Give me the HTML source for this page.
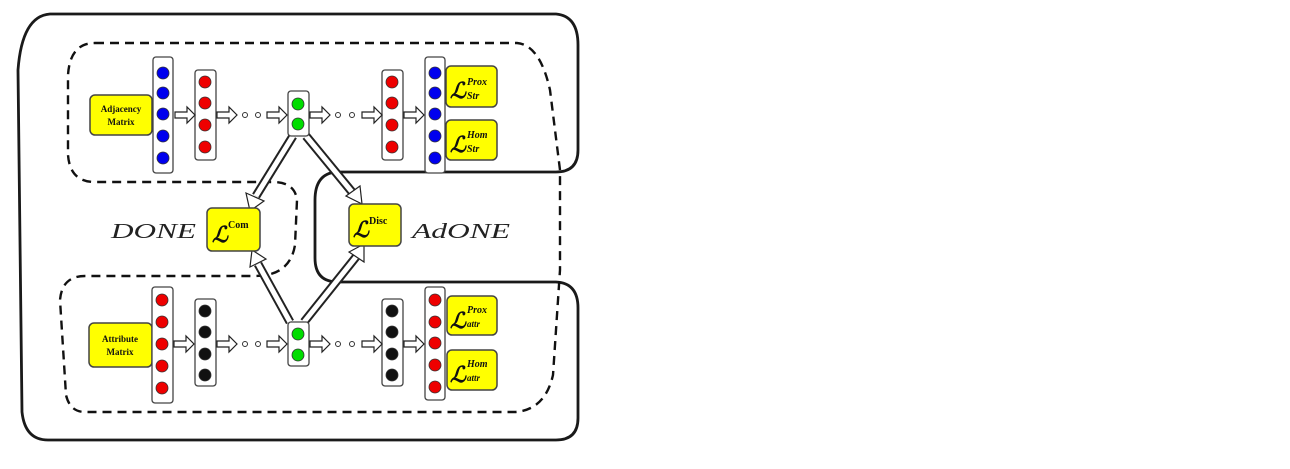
<!DOCTYPE html>
<html><head><meta charset="utf-8"><style>
html,body{margin:0;padding:0;background:#fff;width:1290px;height:469px;overflow:hidden}
svg{display:block}
.b{font-family:"Liberation Serif",serif;font-weight:bold}
</style></head><body>
<svg width="1290" height="469" viewBox="0 0 1290 469" xmlns="http://www.w3.org/2000/svg">
<defs>
<g id="arr"><path d="M0,-3 L12,-3 L12,-8 L20,0 L12,8 L12,3 L0,3 Z" fill="#fff" stroke="#222" stroke-width="1.2"/></g>
</defs>
<path d="M50,14 L556,14 Q578,16 578,45 L578,150 Q578,172 556,172 L336,172 Q315,174 315,200 L315,258 Q315,282 338,282 L556,282 Q578,283 578,308 L578,418 Q578,440 556,440 L48,440 Q25,440 22,412 L18,70 Q22,16 50,14 Z" fill="none" stroke="#1a1a1a" stroke-width="2.8"/>
<path d="M95,43 L517,43 Q540,45 550,90 L560,170 L560,270 L553,375 Q545,410 515,412 L85,412 Q70,412 66,395 L60,300 Q62,276 85,276 L255,276 Q290,276 295,245 L297,200 Q295,183 275,182 L95,182 Q70,182 68,155 L68,75 Q70,43 95,43 Z" fill="none" stroke="#111" stroke-width="2.4" stroke-dasharray="9,6"/>
<g fill="none" stroke-linecap="butt">
<path d="M293,136 L256,196" stroke="#222" stroke-width="9"/><path d="M293,136 L256,196" stroke="#fff" stroke-width="5"/>
<path d="M306,136 L352,192" stroke="#222" stroke-width="9"/><path d="M306,136 L352,192" stroke="#fff" stroke-width="5"/>
<path d="M290,322 L258,264" stroke="#222" stroke-width="9"/><path d="M290,322 L258,264" stroke="#fff" stroke-width="5"/>
<path d="M304,322 L356,257" stroke="#222" stroke-width="9"/><path d="M304,322 L356,257" stroke="#fff" stroke-width="5"/>
</g>
<g fill="#fff" stroke="#222" stroke-width="1.2">
<path d="M246,193 L264,201 L250,211 Z"/>
<path d="M346,196 L360,186 L362,204 Z"/>
<path d="M250,267 L266,259 L252,250 Z"/>
<path d="M349,252 L364,262 L364,244 Z"/>
</g>
<g fill="#ffff00" stroke="#444" stroke-width="1.5">
<rect x="90" y="95" width="62" height="40" rx="5"/>
<rect x="89" y="323" width="63" height="44" rx="5"/>
<rect x="446" y="66" width="51" height="41" rx="5"/>
<rect x="446" y="120" width="51" height="40" rx="5"/>
<rect x="447" y="296" width="50" height="39" rx="5"/>
<rect x="447" y="350" width="50" height="40" rx="5"/>
<rect x="207" y="208" width="53" height="43" rx="5"/>
<rect x="349" y="204" width="52" height="42" rx="5"/>
</g>
<g class="b" font-size="9" text-anchor="middle" fill="#111">
<text x="121" y="112">Adjacency</text><text x="121" y="125">Matrix</text>
<text x="120" y="342">Attribute</text><text x="120" y="355">Matrix</text>
</g>
<g font-family="Liberation Serif,serif" font-style="italic" font-weight="bold" fill="#111">
<text x="450" y="98" font-size="22">ℒ</text><text x="467" y="85" font-size="10">Prox</text><text x="467" y="99" font-size="10">Str</text>
<text x="450" y="152" font-size="22">ℒ</text><text x="467" y="138" font-size="10">Hom</text><text x="467" y="152" font-size="10">Str</text>
<text x="450" y="328" font-size="22">ℒ</text><text x="467" y="313" font-size="10">Prox</text><text x="467" y="327" font-size="9">attr</text>
<text x="450" y="382" font-size="22">ℒ</text><text x="467" y="367" font-size="10">Hom</text><text x="467" y="381" font-size="9">attr</text>
<text x="212" y="242" font-size="22">ℒ</text><text x="228" y="228" font-size="10" font-style="normal">Com</text>
<text x="353" y="237" font-size="22">ℒ</text><text x="369" y="224" font-size="10" font-style="normal">Disc</text>
</g>
<g font-family="Liberation Serif,serif" font-style="italic" font-size="21" fill="#222">
<text x="111" y="238" textLength="85" lengthAdjust="spacingAndGlyphs">DONE</text>
<text x="412" y="238" textLength="98" lengthAdjust="spacingAndGlyphs">AdONE</text>
</g>
<g fill="#fff" stroke="#444" stroke-width="1.3">
<rect x="153" y="57" width="20" height="116" rx="3"/>
<rect x="195" y="70" width="21" height="90" rx="3"/>
<rect x="288" y="91" width="21" height="45" rx="3"/>
<rect x="382" y="70" width="21" height="90" rx="3"/>
<rect x="425" y="57" width="20" height="116" rx="3"/>
<rect x="152" y="287" width="21" height="116" rx="3"/>
<rect x="195" y="299" width="21" height="87" rx="3"/>
<rect x="288" y="322" width="21" height="44" rx="3"/>
<rect x="382" y="299" width="21" height="87" rx="3"/>
<rect x="425" y="287" width="20" height="113" rx="3"/>
</g>
<g stroke="#333" stroke-width="0.8">
<g fill="#0000ee"><circle cx="163" cy="73" r="6"/><circle cx="163" cy="93" r="6"/><circle cx="163" cy="114" r="6"/><circle cx="163" cy="136" r="6"/><circle cx="163" cy="158" r="6"/>
<circle cx="435" cy="73" r="6"/><circle cx="435" cy="93" r="6"/><circle cx="435" cy="114" r="6"/><circle cx="435" cy="136" r="6"/><circle cx="435" cy="158" r="6"/></g>
<g fill="#ee0000"><circle cx="205" cy="82" r="6"/><circle cx="205" cy="103" r="6"/><circle cx="205" cy="125" r="6"/><circle cx="205" cy="147" r="6"/>
<circle cx="392" cy="82" r="6"/><circle cx="392" cy="103" r="6"/><circle cx="392" cy="125" r="6"/><circle cx="392" cy="147" r="6"/>
<circle cx="162" cy="300" r="6"/><circle cx="162" cy="322" r="6"/><circle cx="162" cy="344" r="6"/><circle cx="162" cy="366" r="6"/><circle cx="162" cy="388" r="6"/>
<circle cx="435" cy="300" r="6"/><circle cx="435" cy="322" r="6"/><circle cx="435" cy="343" r="6"/><circle cx="435" cy="365" r="6"/><circle cx="435" cy="387" r="6"/></g>
<g fill="#111"><circle cx="205" cy="311" r="6"/><circle cx="205" cy="332" r="6"/><circle cx="205" cy="354" r="6"/><circle cx="205" cy="375" r="6"/>
<circle cx="392" cy="311" r="6"/><circle cx="392" cy="332" r="6"/><circle cx="392" cy="354" r="6"/><circle cx="392" cy="375" r="6"/></g>
<g fill="#00dd00"><circle cx="298" cy="104" r="6"/><circle cx="298" cy="124" r="6"/><circle cx="298" cy="334" r="6"/><circle cx="298" cy="355" r="6"/></g>
</g>
<use href="#arr" x="175" y="115"/><use href="#arr" x="217" y="115"/><use href="#arr" x="267" y="115"/><use href="#arr" x="310" y="115"/><use href="#arr" x="362" y="115"/><use href="#arr" x="404" y="115"/>
<use href="#arr" x="174" y="344"/><use href="#arr" x="217" y="344"/><use href="#arr" x="267" y="344"/><use href="#arr" x="310" y="344"/><use href="#arr" x="362" y="344"/><use href="#arr" x="404" y="344"/>
<g fill="#fff" stroke="#333" stroke-width="1">
<circle cx="245" cy="115" r="2.5"/><circle cx="258" cy="115" r="2.5"/><circle cx="338" cy="115" r="2.5"/><circle cx="352" cy="115" r="2.5"/>
<circle cx="245" cy="344" r="2.5"/><circle cx="258" cy="344" r="2.5"/><circle cx="338" cy="344" r="2.5"/><circle cx="352" cy="344" r="2.5"/>
</g>
</svg>
</body></html>
